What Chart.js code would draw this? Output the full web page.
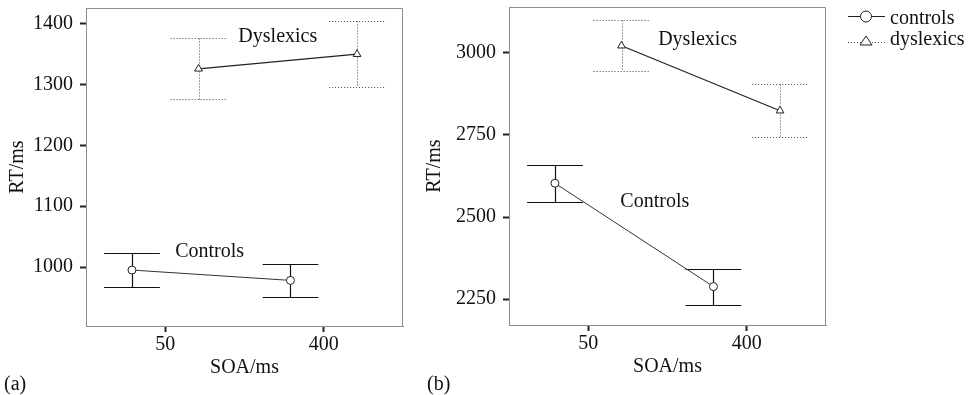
<!DOCTYPE html>
<html>
<head>
<meta charset="utf-8">
<script src="https://cdn.jsdelivr.net/npm/chart.js@4.4.1/dist/chart.umd.min.js"></script>
<style>
  body { margin: 0; background: #fff; }
  #wrap { position: relative; width: 976px; height: 395px; font-family: 'Liberation Serif', serif; }
  #chartA { position: absolute; left: 0; top: 0; }
  #chartB { position: absolute; left: 420px; top: 0; }
  .panel { position: absolute; top: 372px; font-size: 20px; color: #111; }
</style>
</head>
<body>
<div id="wrap">
  <canvas id="chartA" width="420" height="395"></canvas>
  <canvas id="chartB" width="556" height="395"></canvas>
  <div class="panel" style="left:4px">(a)</div>
  <div class="panel" style="left:427px">(b)</div>
</div>
<script>
const soaLabels = ['50', '400'];

// panel (a)
const ctrlMeanA = [995, 978];
const ctrlErrA = [28, 27];
const dysMeanA = [1326, 1350];
const dysErrA = [50, 54];
const yTicksA = [1000, 1100, 1200, 1300, 1400];

// panel (b)
const ctrlMeanB = [2603, 2288];
const ctrlErrB = [56, 55];
const dysMeanB = [3022, 2824];
const dysErrB = [78, 80];
const yTicksB = [2250, 2500, 2750, 3000];

const DODGE = 0.21;  // groups sit either side of the tick
const CAP = 0.176;   // half width of error bar caps, in x units
const FONT = "'Liberation Serif', 'Times New Roman', serif";
const INK = '#111';
const AXIS = '#8c8c8c';

// error bars, drawn under the points
const errorBars = {
    id: 'errorBars',
    beforeDatasetsDraw(chart) {
        const { ctx, scales: { x, y } } = chart;
        chart.data.datasets.forEach(ds => {
            ctx.save();
            ctx.strokeStyle = ds.errColor;
            ctx.lineWidth = ds.errWidth;
            ctx.setLineDash(ds.errDash);
            ds.data.forEach((p, i) => {
                const e = ds.errors[i];
                const px = Math.round(x.getPixelForValue(p.x)) + 0.5;
                const hi = Math.round(y.getPixelForValue(p.y + e)) + 0.5;
                const lo = Math.round(y.getPixelForValue(p.y - e)) + 0.5;
                const l = x.getPixelForValue(p.x - CAP);
                const r = x.getPixelForValue(p.x + CAP);
                ctx.beginPath();
                ctx.moveTo(px, hi); ctx.lineTo(px, lo);
                ctx.moveTo(l, hi); ctx.lineTo(r, hi);
                ctx.moveTo(l, lo); ctx.lineTo(r, lo);
                ctx.stroke();
            });
            ctx.restore();
        });
    }
};

// top and right edges of the box
const frame = {
    id: 'frame',
    beforeDraw(chart) {
        const { ctx, chartArea: a } = chart;
        ctx.save();
        ctx.strokeStyle = AXIS;
        ctx.lineWidth = 1;
        ctx.beginPath();
        ctx.moveTo(a.left, Math.round(a.top) + 0.5);
        ctx.lineTo(Math.round(a.right) - 0.5, Math.round(a.top) + 0.5);
        ctx.lineTo(Math.round(a.right) - 0.5, a.bottom);
        ctx.stroke();
        ctx.restore();
    }
};

// group names written inside the plot
const notes = {
    id: 'notes',
    afterDraw(chart, args, opts) {
        const { ctx, scales: { x, y } } = chart;
        ctx.save();
        ctx.font = '20px ' + FONT;
        ctx.fillStyle = INK;
        ctx.textAlign = 'center';
        ctx.textBaseline = 'middle';
        (opts.items || []).forEach(n => {
            ctx.fillText(n.text, x.getPixelForValue(n.x), y.getPixelForValue(n.y));
        });
        ctx.restore();
    }
};

// legend in the top right corner of panel (b)
const sideLegend = {
    id: 'sideLegend',
    afterDraw(chart, args, opts) {
        if (!opts.show) return;
        const ctx = chart.ctx;
        const x0 = 428, x1 = 465, mx = 446;
        ctx.save();
        ctx.strokeStyle = '#222';
        ctx.lineWidth = 1;
        // controls
        ctx.beginPath(); ctx.moveTo(x0, 16.5); ctx.lineTo(x1, 16.5); ctx.stroke();
        ctx.fillStyle = '#fff';
        ctx.beginPath(); ctx.arc(mx, 16.5, 5.5, 0, Math.PI * 2); ctx.fill(); ctx.stroke();
        // dyslexics
        ctx.strokeStyle = '#555';
        ctx.setLineDash([1, 2]);
        ctx.beginPath(); ctx.moveTo(x0, 42.5); ctx.lineTo(x1, 42.5); ctx.stroke();
        ctx.setLineDash([]);
        ctx.strokeStyle = '#222';
        ctx.beginPath(); ctx.moveTo(mx, 36); ctx.lineTo(mx + 6, 45); ctx.lineTo(mx - 6, 45); ctx.closePath();
        ctx.fill(); ctx.stroke();
        ctx.font = '20px ' + FONT;
        ctx.fillStyle = INK;
        ctx.textAlign = 'left';
        ctx.textBaseline = 'alphabetic';
        ctx.fillText('controls', 470, 24);
        ctx.fillText('dyslexics', 470, 45);
        ctx.restore();
    }
};

function series(means, shift) {
    return means.map((v, i) => ({ x: i + shift, y: v }));
}

// drop the space Chart.js keeps for half a label at each end of an axis
function noEdgePad(s) {
    s.paddingTop = 0;
    s.paddingBottom = 0;
    s.paddingLeft = 0;
    s.paddingRight = 0;
}

function makePanel(id, p) {
    const ctx = document.getElementById(id).getContext('2d');
    return new Chart(ctx, {
        type: 'line',
        data: {
            datasets: [
                {
                    label: 'controls',
                    data: series(p.ctrl, -DODGE),
                    errors: p.ctrlErr,
                    errColor: '#111', errWidth: 1.2, errDash: [],
                    borderColor: '#333',
                    borderWidth: 1,
                    pointStyle: 'circle',
                    pointRadius: 4,
                    pointBorderWidth: 1,
                    pointBorderColor: '#222',
                    pointBackgroundColor: '#fff'
                },
                {
                    label: 'dyslexics',
                    data: series(p.dys, DODGE),
                    errors: p.dysErr,
                    errColor: '#444', errWidth: 1, errDash: [1, 2],
                    borderColor: '#222',
                    borderWidth: 1.2,
                    pointStyle: 'triangle',
                    pointRadius: 4.5,
                    pointBorderWidth: 1,
                    pointBorderColor: '#222',
                    pointBackgroundColor: '#fff'
                }
            ]
        },
        options: {
            responsive: false,
            animation: false,
            layout: { padding: p.pad },
            plugins: {
                legend: { display: false },
                tooltip: { enabled: false },
                notes: { items: p.notes },
                sideLegend: { show: p.legend }
            },
            scales: {
                x: {
                    type: 'linear',
                    min: -0.5,
                    max: 1.5,
                    afterBuildTicks: s => { s.ticks = soaLabels.map((_, i) => ({ value: i })); },
                    afterFit: s => { s.height = 60; noEdgePad(s); },
                    ticks: {
                        callback: v => soaLabels[v],
                        font: { family: FONT, size: 20 },
                        color: INK,
                        padding: 1,
                        maxRotation: 0,
                        autoSkip: false
                    },
                    grid: { display: true, drawOnChartArea: false, tickLength: 6, tickWidth: 2, tickColor: '#222' },
                    border: { color: AXIS, width: 1 },
                    title: {
                        display: true, text: 'SOA/ms',
                        font: { family: FONT, size: 20 }, color: INK,
                        padding: { top: 0, bottom: 6 }
                    }
                },
                y: {
                    min: p.yMin,
                    max: p.yMax,
                    afterBuildTicks: s => { s.ticks = p.yTicks.map(v => ({ value: v })); },
                    afterFit: s => { s.width = p.yWidth; noEdgePad(s); },
                    ticks: {
                        callback: v => String(v),
                        font: { family: FONT, size: 20 },
                        color: INK,
                        padding: 7
                    },
                    grid: { display: true, drawOnChartArea: false, tickLength: 6, tickWidth: 2, tickColor: '#222' },
                    border: { color: AXIS, width: 1 },
                    title: {
                        display: true, text: 'RT/ms',
                        font: { family: FONT, size: 20 }, color: INK,
                        padding: { top: p.titlePad, bottom: 0 }
                    }
                }
            }
        },
        plugins: [frame, errorBars, notes, sideLegend]
    });
}

makePanel('chartA', {
    ctrl: ctrlMeanA, ctrlErr: ctrlErrA,
    dys: dysMeanA, dysErr: dysErrA,
    yTicks: yTicksA, yMin: 903, yMax: 1426,
    yWidth: 86, titlePad: 6,
    pad: { top: 8, right: 17, bottom: 9, left: 0 },
    notes: [
        { text: 'Dyslexics', x: 0.71, y: 1379 },
        { text: 'Controls', x: 0.28, y: 1025 }
    ],
    legend: false
});

makePanel('chartB', {
    ctrl: ctrlMeanB, ctrlErr: ctrlErrB,
    dys: dysMeanB, dysErr: dysErrB,
    yTicks: yTicksB, yMin: 2171, yMax: 3140,
    yWidth: 89, titlePad: 3,
    pad: { top: 7, right: 150, bottom: 10, left: 0 },
    notes: [
        { text: 'Dyslexics', x: 0.69, y: 3040 },
        { text: 'Controls', x: 0.42, y: 2546 }
    ],
    legend: true
});
</script>
</body>
</html>
